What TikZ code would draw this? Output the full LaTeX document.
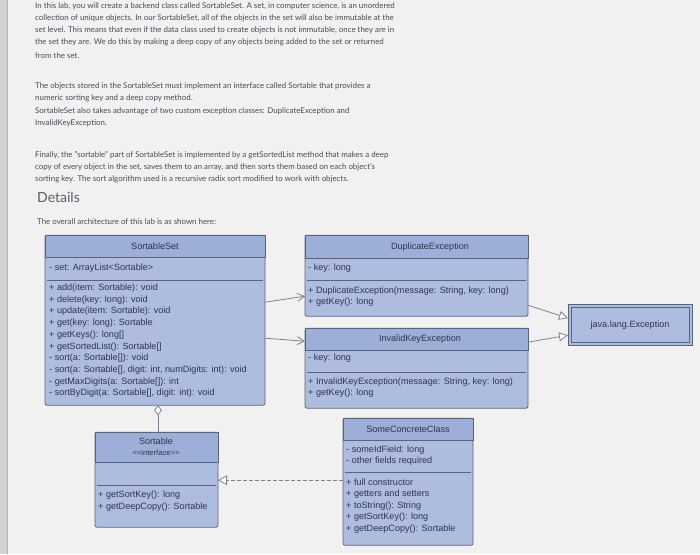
\documentclass[tikz,border=0pt]{standalone}
\usepackage{fontspec}
\setmainfont{Lato}
\newfontfamily\umlf{Liberation Sans}
\usetikzlibrary{arrows.meta}
\definecolor{pagebg}{HTML}{F1F1F1}
\definecolor{boxfill}{HTML}{AEBCE0}
\definecolor{headfill}{HTML}{9DAED8}
\definecolor{boxline}{HTML}{5A6478}
\definecolor{txt}{HTML}{4A4A55}
\definecolor{utxt}{HTML}{2E3550}
\tikzset{
 para/.style={anchor=west,inner sep=0pt,text=txt,font=\fontsize{7.9}{8}\selectfont},
 umlbox/.style={draw=boxline,fill=boxfill,rounded corners=2pt,line width=0.8pt,inner sep=0pt},
 head/.style={fill=headfill,draw=boxline,line width=0.5pt},
 mem/.style={anchor=west,inner sep=0pt,text=utxt,font=\umlf\fontsize{9.1}{10}\selectfont},
 ttl/.style={inner sep=0pt,text=utxt,font=\umlf\fontsize{9.1}{10}\selectfont},
 sep/.style={draw=boxline,line width=0.6pt},
 conn/.style={draw=boxline!80,line width=0.8pt},
 gen/.style={conn,-{Triangle[open,length=9pt,width=9pt,fill=white]}},
 assoc/.style={conn,-{Straight Barb[length=7pt,width=8pt]}},
}
\begin{document}
\begin{tikzpicture}[x=1pt,y=-1pt]
\fill[pagebg] (0,0) rectangle (700,554);
\fill[gray!35] (0,0) rectangle (7,554);
\draw[gray!60] (7,0) -- (7,554);
% paragraphs
\node[para] (p1) at (35,6) {In this lab, you will create a backend class called SortableSet. A set, in computer science, is an unordered};
\node[para] (p2) at (35,18) {collection of unique objects. In our SortableSet, all of the objects in the set will also be immutable at the};
\node[para] (p3) at (35,30) {set level. This means that even if the data class used to create objects is not immutable, once they are in};
\node[para] (p4) at (35,42) {the set they are. We do this by making a deep copy of any objects being added to the set or returned};
\node[para] (p5) at (35,55) {from the set.};
\node[para] (q1) at (35,86) {The objects stored in the SortableSet must implement an interface called Sortable that provides a};
\node[para] (q2) at (35,98) {numeric sorting key and a deep copy method.};
\node[para] (q3) at (35,111) {SortableSet also takes advantage of two custom exception classes: DuplicateException and};
\node[para] (q4) at (35,123) {InvalidKeyException.};
\node[para] (r1) at (35,155) {Finally, the "sortable" part of SortableSet is implemented by a getSortedList method that makes a deep};
\node[para] (r2) at (35,167) {copy of every object in the set, saves them to an array, and then sorts them based on each object's};
\node[para] (r3) at (35,179) {sorting key. The sort algorithm used is a recursive radix sort modified to work with objects.};
\node[para,font=\fontsize{14}{15}\selectfont,text=txt!90] (det) at (37,197) {Details};
\node[para] (ov) at (37,221) {The overall architecture of this lab is as shown here:};
% SortableSet
\path[umlbox] (45,235) rectangle (265,405);
\path[head] (45,235) rectangle (265,257);
\node[ttl] (ss) at (155,246) {SortableSet};
\node[mem] at (49,268) {- set: ArrayList<Sortable>};
\draw[sep] (47,280) -- (263,280);
\foreach \t [count=\i from 0] in {+ add(item: Sortable): void,+ delete(key: long): void,+ update(item: Sortable): void,+ get(key: long): Sortable,+ getKeys(): long[],+ getSortedList(): Sortable[],- sort(a: Sortable[]): void,{- sort(a: Sortable[], digit: int, numDigits: int): void},- getMaxDigits(a: Sortable[]): int,{- sortByDigit(a: Sortable[], digit: int): void}}
  \node[mem] at (49,288+11.7*\i) {\t};
\coordinate (ssb) at (158,405);
\coordinate (ssr1) at (265,302);
\coordinate (ssr2) at (265,338);
% Sortable
\path[umlbox] (95,432) rectangle (218,527);
\path[head] (95,432) rectangle (218,462);
\node[ttl] (so) at (156,441) {Sortable};
\node[ttl,font=\umlf\fontsize{7.6}{8}\selectfont] at (156,453) {<{}<interface>{}>};
\draw[sep] (97,485) -- (216,485);
\node[mem] at (98,495) {+ getSortKey(): long};
\node[mem] at (98,507) {+ getDeepCopy(): Sortable};
\coordinate (sot) at (158,432);
\coordinate (sor) at (218,480);
% SomeConcreteClass
\path[umlbox] (343,418) rectangle (473,545);
\path[head] (343,418) rectangle (473,440);
\node[ttl] (sc) at (408,429) {SomeConcreteClass};
\node[mem] at (346,450) {- someIdField: long};
\node[mem] at (346,461) {- other fields required};
\draw[sep] (345,472) -- (471,472);
\foreach \t [count=\i from 0] in {+ full constructor,+ getters and setters,+ toString(): String,+ getSortKey(): long,+ getDeepCopy(): Sortable}
  \node[mem] at (346,482+11.8*\i) {\t};
\coordinate (scl) at (343,480);
% DuplicateException
\path[umlbox] (305,235) rectangle (528,316);
\path[head] (305,235) rectangle (528,258);
\node[ttl] (de) at (430,247) {DuplicateException};
\node[mem] at (308,268) {- key: long};
\draw[sep] (307,280) -- (526,280);
\node[mem] at (308,291) {+ DuplicateException(message: String, key: long)};
\node[mem] at (308,302) {+ getKey(): long};
\coordinate (del) at (305,296);
\coordinate (der) at (528,305);
% InvalidKeyException
\path[umlbox] (305,328) rectangle (528,408);
\path[head] (305,328) rectangle (528,350);
\node[ttl] (ik) at (420,339) {InvalidKeyException};
\node[mem] at (308,358) {- key: long};
\draw[sep] (307,372) -- (526,372);
\node[mem] at (308,382) {+ InvalidKeyException(message: String, key: long)};
\node[mem] at (308,393) {+ getKey(): long};
\coordinate (ikl) at (305,341);
\coordinate (ikr) at (528,342);
% java.lang.Exception
\path[draw=boxline,fill=boxfill,line width=0.8pt] (568,304) rectangle (692,345);
\draw[boxline,line width=0.5pt] (571,307) rectangle (689,342);
\node[ttl] (je) at (630,325) {java.lang.Exception};
\coordinate (jel1) at (568,318);
\coordinate (jel2) at (568,335);
% connectors
\draw[assoc] (ssr1) -- (del);
\draw[assoc] (ssr2) -- (ikl);
\draw[gen] (der) -- (jel1);
\draw[gen] (ikr) -- (jel2);
\draw[conn,dashed,dash pattern=on 4pt off 2pt,-{Triangle[open,length=9pt,width=10pt,fill=white]}] (scl) -- (sor);
\draw[conn,{Diamond[open,length=10pt,width=8pt,fill=white]}-] (ssb) -- (sot);
\end{tikzpicture}
\end{document}
